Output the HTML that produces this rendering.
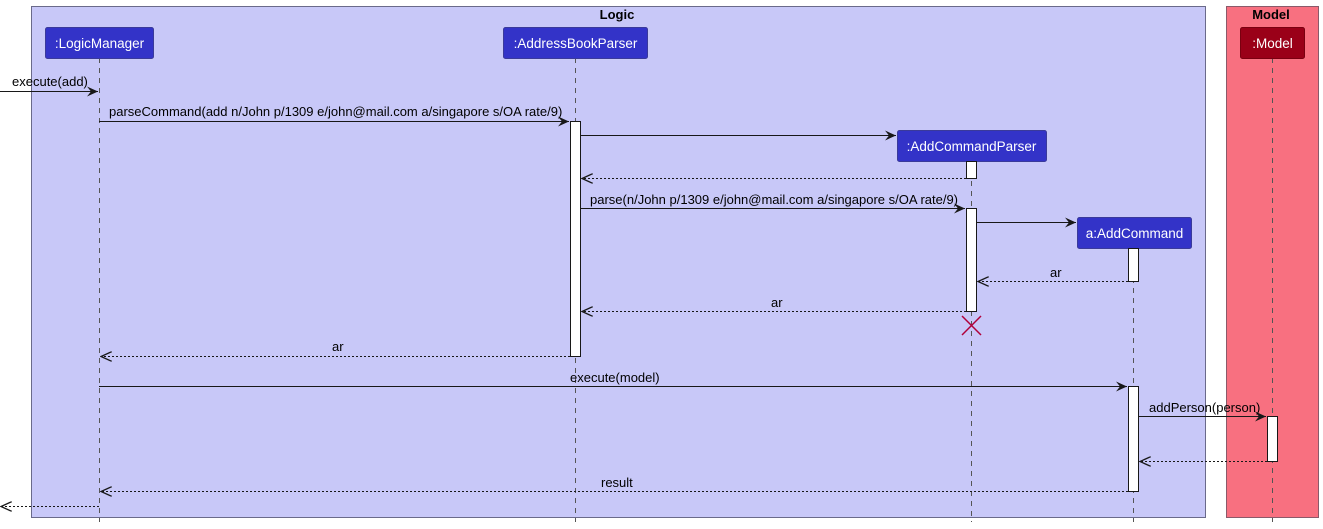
<!DOCTYPE html>
<html><head><style>body{margin:0;background:#fff}svg{display:block}text{font-family:"Liberation Sans",sans-serif;font-size:13px;fill:#000}</style></head><body>
<svg width="1323" height="529" viewBox="0 0 1323 529" xmlns="http://www.w3.org/2000/svg">
<defs>
<marker id="a" markerWidth="12" markerHeight="10" refX="11" refY="5" orient="auto" markerUnits="userSpaceOnUse"><path d="M0,0 L11,5 L0,10 L4,5 Z" fill="#181818"/></marker>
<marker id="o" markerWidth="12" markerHeight="10" refX="11" refY="5" orient="auto" markerUnits="userSpaceOnUse"><path d="M0,0 L11,5 L0,10" fill="none" stroke="#181818" stroke-width="1.3"/></marker>
</defs>
<rect x="31.5" y="6.5" width="1174" height="511" fill="#C8C8F8" stroke="#6A6A8A"/>
<rect x="1226.5" y="6.5" width="92" height="511" fill="#F87080" stroke="#8A5A6A"/>
<text x="617" y="19" text-anchor="middle" style="font-weight:bold;font-size:13px">Logic</text>
<text x="1271" y="19" text-anchor="middle" style="font-weight:bold;font-size:13px">Model</text>
<g stroke="#555" stroke-dasharray="5,5" stroke-width="1">
<line x1="99.5" y1="58" x2="99.5" y2="522"/>
<line x1="575.5" y1="58" x2="575.5" y2="522"/>
<line x1="971.5" y1="161" x2="971.5" y2="522"/>
<line x1="1133.5" y1="248" x2="1133.5" y2="522"/>
<line x1="1272.5" y1="58" x2="1272.5" y2="522"/>
</g>
<g stroke="#3A3A9A" fill="#3333C8">
<rect x="45.5" y="27.5" width="108" height="31" rx="2"/>
<rect x="503.5" y="27.5" width="144" height="31" rx="2"/>
<rect x="897.5" y="130.5" width="149" height="31" rx="2"/>
<rect x="1077.5" y="217.5" width="114" height="31" rx="2"/>
<rect x="1240.5" y="27.5" width="64" height="31" rx="2" fill="#9A0018" stroke="#7A0010"/>
</g>
<text x="99.5" y="48" text-anchor="middle" style="fill:#fff;font-size:13.5px">:LogicManager</text>
<text x="575.5" y="48" text-anchor="middle" style="fill:#fff;font-size:13.5px">:AddressBookParser</text>
<text x="971.5" y="151" text-anchor="middle" style="fill:#fff;font-size:13.5px">:AddCommandParser</text>
<text x="1134.5" y="238" text-anchor="middle" style="fill:#fff;font-size:13.5px">a:AddCommand</text>
<text x="1272.5" y="48" text-anchor="middle" style="fill:#fff;font-size:13.5px">:Model</text>
<g fill="#fff" stroke="#181818">
<rect x="570.5" y="121.5" width="10" height="235"/>
<rect x="966.5" y="161.5" width="10" height="17"/>
<rect x="966.5" y="208.5" width="10" height="103"/>
<rect x="1128.5" y="248.5" width="10" height="33"/>
<rect x="1128.5" y="386.5" width="10" height="105"/>
<rect x="1267.5" y="416.5" width="10" height="45"/>
</g>
<g stroke="#181818" stroke-width="1" fill="none">
<line x1="0" y1="91.5" x2="98" y2="91.5" marker-end="url(#a)"/>
<line x1="99" y1="121.5" x2="569" y2="121.5" marker-end="url(#a)"/>
<line x1="581" y1="135.5" x2="896" y2="135.5" marker-end="url(#a)"/>
<line x1="581" y1="208.5" x2="965" y2="208.5" marker-end="url(#a)"/>
<line x1="977" y1="222.5" x2="1076" y2="222.5" marker-end="url(#a)"/>
<line x1="99" y1="386.5" x2="1127" y2="386.5" marker-end="url(#a)"/>
<line x1="1139" y1="416.5" x2="1266" y2="416.5" marker-end="url(#a)"/>
<g stroke-dasharray="2,2">
<line x1="966" y1="178.5" x2="582" y2="178.5" marker-end="url(#o)"/>
<line x1="1128" y1="281.5" x2="978" y2="281.5" marker-end="url(#o)"/>
<line x1="966" y1="311.5" x2="582" y2="311.5" marker-end="url(#o)"/>
<line x1="570" y1="356.5" x2="101" y2="356.5" marker-end="url(#o)"/>
<line x1="1267" y1="461.5" x2="1140" y2="461.5" marker-end="url(#o)"/>
<line x1="1128" y1="491.5" x2="101" y2="491.5" marker-end="url(#o)"/>
<line x1="99" y1="506.5" x2="1" y2="506.5" marker-end="url(#o)"/>
</g>
</g>
<g stroke="#B0003A" stroke-width="1.5"><line x1="962" y1="316" x2="981" y2="335"/><line x1="981" y1="316" x2="962" y2="335"/></g>
<text x="12" y="86">execute(add)</text>
<text x="109" y="116">parseCommand(add n/John p/1309 e/john@mail.com a/singapore s/OA rate/9)</text>
<text x="590" y="204">parse(n/John p/1309 e/john@mail.com a/singapore s/OA rate/9)</text>
<text x="1050" y="277">ar</text>
<text x="771" y="307">ar</text>
<text x="332" y="351">ar</text>
<text x="570" y="382">execute(model)</text>
<text x="1149" y="412">addPerson(person)</text>
<text x="601" y="487">result</text>
</svg>
</body></html>
